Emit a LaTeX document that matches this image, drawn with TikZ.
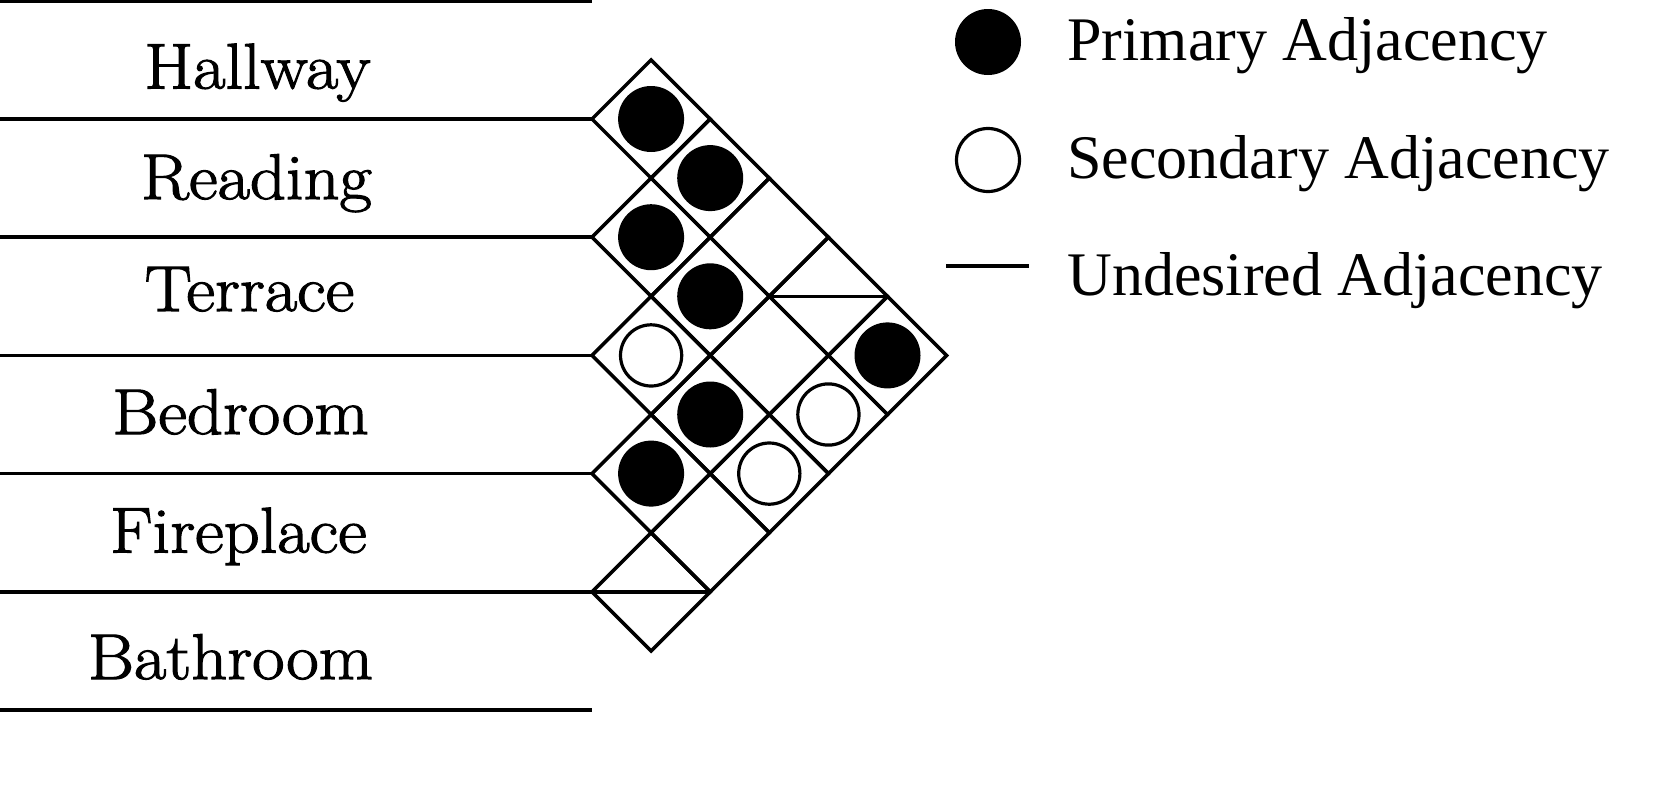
\documentclass[tikz,border=0pt]{standalone}
\usepackage{fontspec}
\usetikzlibrary{calc}
\newfontfamily\legendfont{Liberation Serif}
\newfontfamily\roomfont{Latin Modern Roman}[FakeStretch=1.09, FakeBold=1.8]
\begin{document}
\begin{tikzpicture}[x=0.5pt,y=-0.5pt,
  rowline/.style={line width=1.75pt},
  cellline/.style={line width=1.75pt, line join=miter},
  primary/.style={circle, fill=black, inner sep=0pt, minimum size=33pt},
  secondary/.style={circle, draw=black, line width=1.6pt, inner sep=0pt, minimum size=30.6pt},
  roomlabel/.style={anchor=base, inner sep=0pt, font=\roomfont\fontsize{32.3}{38}\selectfont},
  legendlabel/.style={anchor=base west, inner sep=0pt, font=\legendfont\fontsize{31}{37}\selectfont}]
\useasboundingbox (0,0) rectangle (1673,793);

% row boundary lines
\foreach \k in {0,...,6} {
  \pgfmathsetmacro{\yy}{0.8+118.2*\k}
  \coordinate (L\k) at (0,\yy);
  \coordinate (R\k) at (592,\yy);
  \draw[rowline] (L\k) -- (R\k);
}

% room labels
\node[roomlabel] (hall) at (257.5,88.5) {Hallway};
\node[roomlabel] (read) at (256.5,199) {Reading};
\node[roomlabel] (terr) at (249.5,311) {Terrace};
\node[roomlabel] (bed)  at (240.5,434) {Bedroom};
\node[roomlabel] (fire) at (238.5,552.5) {Fireplace};
\node[roomlabel] (bath) at (230.5,679) {Bathroom};

% cells of the adjacency matrix
\foreach \i/\j in {1/2,1/3,1/4,1/5,1/6,2/3,2/4,2/5,2/6,3/4,3/5,3/6,4/5,4/6,5/6} {
  \pgfmathsetmacro{\cx}{592+(\j-\i)*59.1}
  \pgfmathsetmacro{\cy}{0.8+(\i+\j-1)*59.1}
  \coordinate (c\i\j) at (\cx,\cy);
  \draw[cellline] (c\i\j) ++(-59.1,0) -- ++(59.1,-59.1) -- ++(59.1,59.1) -- ++(-59.1,59.1) -- cycle;
}

% primary adjacencies
\foreach \c in {12,13,16,23,24,35,45} {
  \node[primary] (p\c) at (c\c) {};
}
% secondary adjacencies
\foreach \c in {26,34,36} {
  \node[secondary] (s\c) at (c\c) {};
}
% undesired adjacencies
\foreach \c in {15,56} {
  \coordinate (ua\c) at ($(c\c)+(-59.1,0)$);
  \coordinate (ub\c) at ($(c\c)+(59.1,0)$);
  \draw[rowline] (ua\c) -- (ub\c);
}

% legend
\node[primary] (legP) at (988,42) {};
\node[secondary, minimum size=31.5pt] (legS) at (988,160) {};
\coordinate (legU1) at (946,266);
\coordinate (legU2) at (1029,266);
\draw[rowline] (legU1) -- (legU2);
\node[legendlabel] (legPt) at (1067,60) {Primary Adjacency};
\node[legendlabel] (legSt) at (1067,178) {Secondary Adjacency};
\node[legendlabel] (legUt) at (1067,295) {Undesired Adjacency};
\end{tikzpicture}
\end{document}
